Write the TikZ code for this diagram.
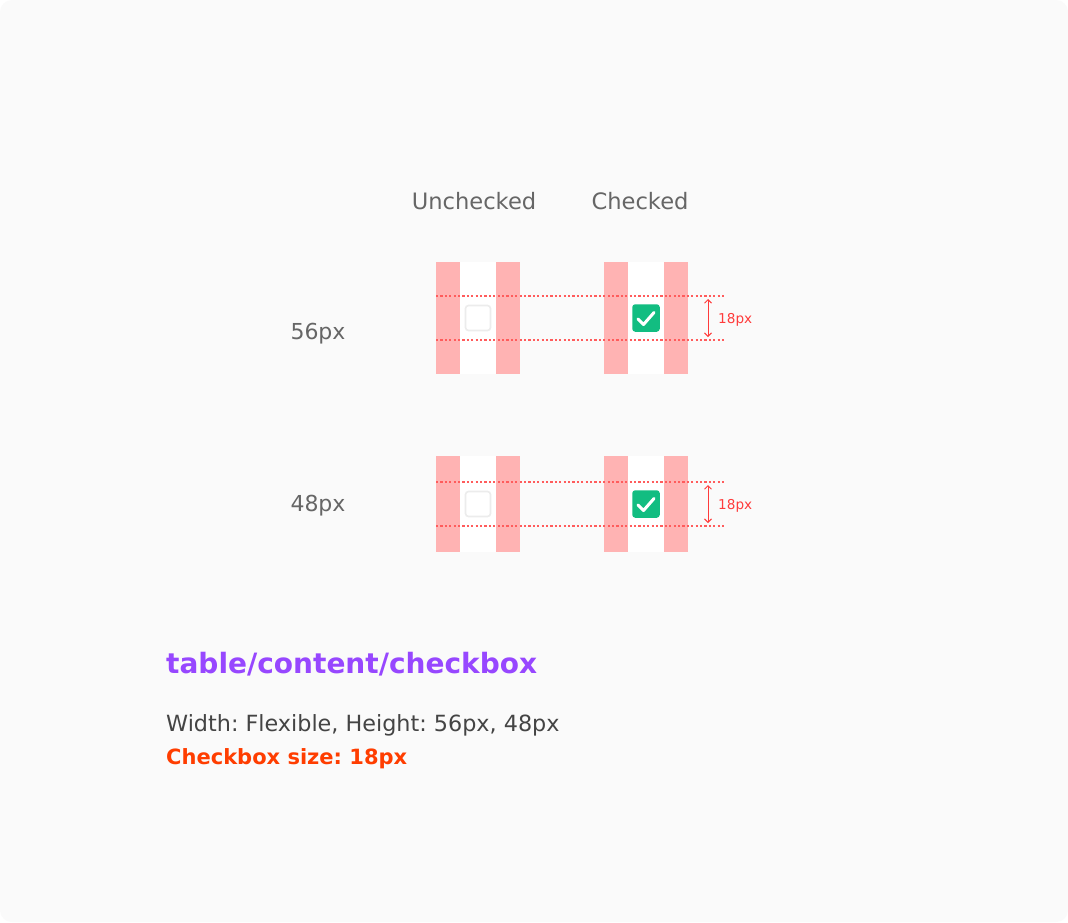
\documentclass[tikz,border=0pt]{standalone}
\usepackage{fontspec}
\setmainfont{DejaVu Sans}
\usetikzlibrary{calc}
\usetikzlibrary{arrows.meta}
\definecolor{pagebg}{HTML}{FAFAFA}
\definecolor{padpink}{HTML}{FFB3B3}
\definecolor{guidered}{HTML}{FF5C5C}
\definecolor{tagred}{HTML}{FF3B3B}
\definecolor{labelgray}{HTML}{666666}
\definecolor{bodygray}{HTML}{444444}
\definecolor{tokenpurple}{HTML}{9747FF}
\definecolor{sizeorange}{HTML}{FF3D00}
\definecolor{boxgreen}{HTML}{12BD81}
\definecolor{boxedge}{HTML}{ECECEC}
\tikzset{
  padcell/.style= {fill=padpink, minimum width=84, inner sep=0},
  midcell/.style= {fill=white, minimum width=36, inner sep=0},
  emptybox/.style= {draw=boxedge, line width=1.6, fill=white, rounded corners=3, minimum size=25, inner sep=0},
  tickbox/.style= {fill=boxgreen, rounded corners=3, minimum size=27.5, inner sep=0},
  guide/.style= {guidered, line width=1.6, dash pattern=on 2.2 off 2.2},
  measure/.style= {tagred, line width=1, {Straight Barb[length=3.5,width=7]}-{Straight Barb[length=3.5,width=7]}},
  colhead/.style= {labelgray, font=\fontsize{22.6}{26}\selectfont, anchor=base, inner sep=0},
  rowhead/.style= {labelgray, font=\fontsize{22}{26}\selectfont, anchor=base, inner sep=0},
  sizetag/.style= {tagred, font=\fontsize{13.6}{15}\selectfont, anchor=base west, inner sep=0},
}

\begin{document}
\frenchspacing
\begin{tikzpicture}[x=1pt, y=-1pt]
  \fill [white] (0,0) rectangle (1068,922) ;
  \fill [pagebg, rounded corners=12] (0,0) rectangle (1068,922) ;
  \useasboundingbox (0,0) rectangle (1068,922) ;

  % column and row heads
  \node [colhead] (unchecked) at (474,209) {Unchecked} ;
  \node [colhead] (checked) at (640,209) {Checked} ;
  \node [rowhead] (tall) at (318,339) {56px} ;
  \node [rowhead] (short) at (318,511) {48px} ;

  % 56px row
  \node [padcell, minimum height=112] (a1) at (478,318) {} ;
  \node [midcell, minimum height=112] (a1m) at (478,318) {} ;
  \node [padcell, minimum height=112] (b1) at (646,318) {} ;
  \node [midcell, minimum height=112] (b1m) at (646,318) {} ;
  \draw [guide] (436,296) coordinate (g1) -- (724,296) coordinate (g1e) ;
  \draw [guide] (436,340) coordinate (g2) -- (724,340) coordinate (g2e) ;
  \node [emptybox] (box1) at (478,318) {} ;
  \node [tickbox] (tick1) at (646,318) {} ;
  \draw [white, line width=3, line cap=round, line join=round]
    ($(tick1)+(-8,1)$) -- ($(tick1)+(-2.5,6.5)$) -- ($(tick1)+(8,-5.5)$) ;
  \coordinate (m1t) at (708,299) ;
  \coordinate (m1b) at (708,337) ;
  \draw [measure] (m1t) -- (m1b) ;
  \node [sizetag] (tag1) at (718,323) {18px} ;

  % 48px row
  \node [padcell, minimum height=96] (a2) at (478,504) {} ;
  \node [midcell, minimum height=96] (a2m) at (478,504) {} ;
  \node [padcell, minimum height=96] (b2) at (646,504) {} ;
  \node [midcell, minimum height=96] (b2m) at (646,504) {} ;
  \draw [guide] (436,482) coordinate (g3) -- (724,482) coordinate (g3e) ;
  \draw [guide] (436,526) coordinate (g4) -- (724,526) coordinate (g4e) ;
  \node [emptybox] (box2) at (478,504) {} ;
  \node [tickbox] (tick2) at (646,504) {} ;
  \draw [white, line width=3, line cap=round, line join=round]
    ($(tick2)+(-8,1)$) -- ($(tick2)+(-2.5,6.5)$) -- ($(tick2)+(8,-5.5)$) ;
  \coordinate (m2t) at (708,485) ;
  \coordinate (m2b) at (708,523) ;
  \draw [measure] (m2t) -- (m2b) ;
  \node [sizetag] (tag2) at (718,509) {18px} ;

  % spec text
  \node [tokenpurple, font=\bfseries\fontsize{28}{32}\selectfont, anchor=base west, inner sep=0]
    (token) at (166,673) {table/content/checkbox} ;
  \node [bodygray, font=\fontsize{22.3}{25}\selectfont, anchor=base west, inner sep=0]
    (dims) at (166,731) {Width: Flexible, Height: 56px, 48px} ;
  \node [sizeorange, font=\bfseries\fontsize{21}{25}\selectfont, anchor=base west, inner sep=0]
    (cbsize) at (166,764) {Checkbox size: 18px} ;
\end{tikzpicture}
\end{document}
